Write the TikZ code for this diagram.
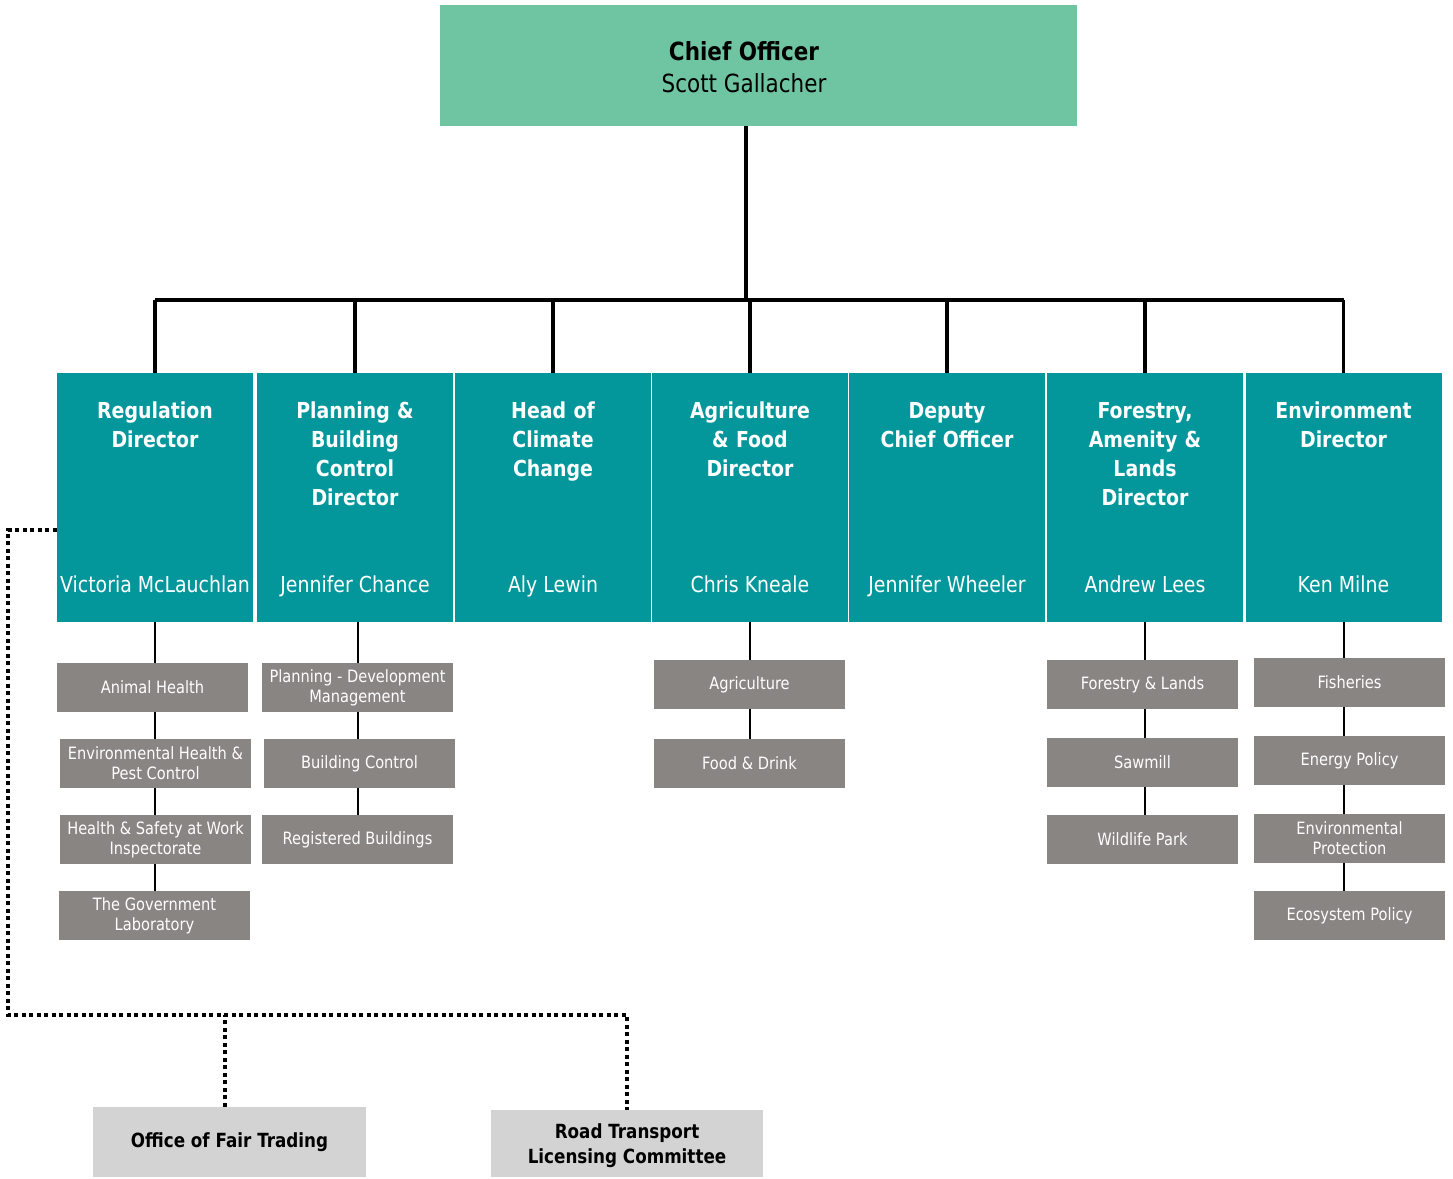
\documentclass[tikz,border=0pt]{standalone}
\usepackage{fontspec}
\setmainfont{DejaVu Sans}[FakeStretch=0.86]
\usetikzlibrary{positioning, calc}
\definecolor{ChiefGreen}{RGB}{111,197,162}
\definecolor{DirTeal}{RGB}{3,151,156}
\definecolor{UnitGray}{RGB}{137,133,131}
\definecolor{BodyGray}{RGB}{211,211,211}
\tikzset{
  chiefbox/.style={fill=ChiefGreen, minimum width=637pt, minimum height=121pt, inner sep=0pt},
  dirbox/.style={fill=DirTeal, minimum width=196pt, minimum height=249pt, inner sep=0pt},
  dirtitle/.style={text=white, font=\bfseries\fontsize{22}{29}\selectfont, align=center, anchor=north, inner sep=0pt},
  dirname/.style={text=white, font=\fontsize{22}{26}\selectfont, anchor=base, inner sep=0pt},
  unitbox/.style={fill=UnitGray, text=white, minimum width=191pt, minimum height=49pt, inner sep=0pt, align=center, font=\fontsize{17}{20}\selectfont},
  bodybox/.style={fill=BodyGray, minimum height=70pt, inner sep=0pt, align=center, font=\bfseries\fontsize{19.5}{25}\selectfont},
  busline/.style={line width=3.5pt},
  unitline/.style={line width=2pt},
  linkline/.style={line width=4pt, dash pattern=on 4pt off 3.5pt},
}

\begin{document}
\begin{tikzpicture}[x=1pt,y=-1pt]
    \useasboundingbox (0,0) rectangle (1453,1178);
    % chief officer
    \node[chiefbox] (chief) at (758.5,65.5) {};
    \node[align=center, anchor=north, inner sep=0pt, font=\fontsize{25}{32}\selectfont] (chieftext) at (744,41) {\textbf{Chief Officer}\\Scott Gallacher};
    % directors
    \foreach \i/\x/\title/\who in {1/155/{Regulation\\Director}/Victoria McLauchlan,
                                   2/355/{Planning \&\\Building\\Control\\Director}/Jennifer Chance,
                                   3/553/{Head of\\Climate\\Change}/Aly Lewin,
                                   4/750/{Agriculture\\\& Food\\Director}/Chris Kneale,
                                   5/947/{Deputy\\Chief Officer}/Jennifer Wheeler,
                                   6/1145/{Forestry,\\Amenity \&\\Lands\\Director}/Andrew Lees,
                                   7/1343.5/{Environment\\Director}/Ken Milne}
    {
        \node[dirbox] (d\i) at (\x,497.5) {};
        \node[dirtitle, text width=190pt] (t\i) at ([yshift=-29pt]d\i.north) {\title};
        \node[dirname] (n\i) at ([yshift=30pt]d\i.south) {\who};
    }
    % reporting lines
    \coordinate (bus) at (746,300);
    \draw[busline] (chief.south -| bus) -- (bus);
    \draw[busline] (d1.north |- bus) -- (d7.north |- bus);
    \foreach \i in {1,...,7}
        \draw[busline] (d\i.north) -- (d\i.north |- bus);
    % units
    \node[unitbox] (ah) at (152.5,687.5) {Animal Health};
    \node[unitbox] (eh) at (155.5,763.5) {Environmental Health \&\\Pest Control};
    \node[unitbox] (hs) at (155.5,839.5) {Health \& Safety at Work\\Inspectorate};
    \node[unitbox] (gl) at (154.5,915.5) {The Government\\Laboratory};
    \node[unitbox] (pd) at (357.5,687.5) {Planning - Development\\Management};
    \node[unitbox] (bc) at (359.5,763.5) {Building Control};
    \node[unitbox] (rb) at (357.5,839.5) {Registered Buildings};
    \node[unitbox] (ag) at (749.5,684.5) {Agriculture};
    \node[unitbox] (fd) at (749.5,763.5) {Food \& Drink};
    \node[unitbox] (fl) at (1142.5,684.5) {Forestry \& Lands};
    \node[unitbox] (sm) at (1142.5,762.5) {Sawmill};
    \node[unitbox] (wp) at (1142.5,839.5) {Wildlife Park};
    \node[unitbox] (fi) at (1349.5,682.5) {Fisheries};
    \node[unitbox] (ep) at (1349.5,760.5) {Energy Policy};
    \node[unitbox] (pr) at (1349.5,838.5) {Environmental\\Protection};
    \node[unitbox] (ec) at (1349.5,915.5) {Ecosystem Policy};
    \draw[unitline] (d1.south) -- (d1.south |- ah.north);
    \draw[unitline] (d1.south |- ah.south) -- (d1.south |- eh.north);
    \draw[unitline] (d1.south |- eh.south) -- (d1.south |- hs.north);
    \draw[unitline] (d1.south |- hs.south) -- (d1.south |- gl.north);
    \draw[unitline] ([xshift=3pt]d2.south) -- ([xshift=3pt]d2.south |- pd.north);
    \draw[unitline] ([xshift=3pt]d2.south |- pd.south) -- ([xshift=3pt]d2.south |- bc.north);
    \draw[unitline] ([xshift=3pt]d2.south |- bc.south) -- ([xshift=3pt]d2.south |- rb.north);
    \draw[unitline] (d4.south) -- (d4.south |- ag.north);
    \draw[unitline] (d4.south |- ag.south) -- (d4.south |- fd.north);
    \draw[unitline] (d6.south) -- (d6.south |- fl.north);
    \draw[unitline] (d6.south |- fl.south) -- (d6.south |- sm.north);
    \draw[unitline] (d6.south |- sm.south) -- (d6.south |- wp.north);
    \draw[unitline] (d7.south) -- (d7.south |- fi.north);
    \draw[unitline] (d7.south |- fi.south) -- (d7.south |- ep.north);
    \draw[unitline] (d7.south |- ep.south) -- (d7.south |- pr.north);
    \draw[unitline] (d7.south |- pr.south) -- (d7.south |- ec.north);
    % linked bodies
    \node[bodybox, minimum width=273pt] (oft) at (229.5,1142) {Office of Fair Trading};
    \node[bodybox, minimum width=272pt, minimum height=67pt, text depth=-3pt] (rtlc) at (627,1143.5) {Road Transport\\Licensing Committee};
    \coordinate (lk1) at (8,530);
    \coordinate (lk2) at (8,1015);
    \draw[linkline] (d1.west |- lk1) -- (lk1) -- (lk2) -| (rtlc.north);
    \draw[linkline] ([xshift=-5pt]oft.north) -- ([xshift=-5pt]oft.north |- lk2);
\end{tikzpicture}
\end{document}
